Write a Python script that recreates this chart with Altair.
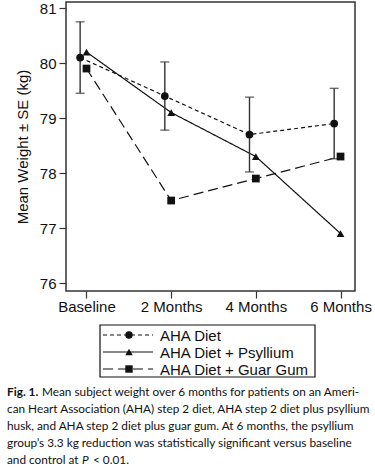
import altair as alt
import pandas as pd

months = ["Baseline", "2 Months", "4 Months", "6 Months"]
series_names = ["AHA Diet", "AHA Diet + Psyllium", "AHA Diet + Guar Gum"]
aha = [80.1, 79.4, 78.7, 78.9]
aha_se = [0.65, 0.62, 0.68, 0.64]
psyllium = [80.2, 79.1, 78.3, 76.9]
guar = [79.9, 77.5, 77.9, 78.3]

caption_bold = "Fig. 1."
caption_lines = [
    "Mean subject weight over 6 months for patients on an Ameri-",
    "can Heart Association (AHA) step 2 diet, AHA step 2 diet plus psyllium",
    "husk, and AHA step 2 diet plus guar gum. At 6 months, the psyllium",
    "group\u2019s 3.3 kg reduction was statistically significant versus baseline",
    "and control at",
]
caption_italic = "P"
caption_tail = "< 0.01."

rows = []
for name, vals in zip(series_names, [aha, psyllium, guar]):
    for i, v in enumerate(vals):
        rows.append({"series": name, "idx": i, "value": v})
df = pd.DataFrame(rows)
err = pd.DataFrame({"idx": list(range(len(months))), "value": aha, "se": aha_se})

PL, PT = 66, 2
W, H = 289, 289
AHA_SHIFT = -0.075
FONT = "Liberation Sans"
CAP_FONT = "Lato"
INK = "#111"

xscale = alt.Scale(domain=[-0.242, 3.171], nice=False, zero=False)
yscale = alt.Scale(domain=[75.855, 81.11], nice=False, zero=False)
label_expr = "[" + ",".join("'%s'" % m for m in months) + "][datum.value]"

xenc = alt.X("xpos:Q", scale=xscale,
             axis=alt.Axis(values=list(range(len(months))), labelExpr=label_expr, title=None))
yenc = alt.Y("value:Q", scale=yscale,
             axis=alt.Axis(values=[76, 77, 78, 79, 80, 81], format="d", title="Mean Weight \u00b1 SE (kg)"))

shift_expr = "datum.idx + (datum.series == 'AHA Diet' ? %f : 0)" % AHA_SHIFT

dash_scale = alt.Scale(domain=series_names, range=[[4, 3], [1, 0], [10, 5]])
shape_scale = alt.Scale(domain=series_names, range=["circle", "triangle-up", "square"])

base = alt.Chart(df).transform_calculate(xpos=shift_expr)

lines = base.mark_line(color=INK, strokeWidth=1.2).encode(
    x=xenc, y=yenc,
    strokeDash=alt.StrokeDash("series:N", scale=dash_scale, legend=None),
    detail="series:N",
)
points = base.mark_point(filled=True, color=INK, opacity=1, size=60).encode(
    x=xenc, y=yenc,
    shape=alt.Shape("series:N", scale=shape_scale, legend=None),
)

ebase = alt.Chart(err).transform_calculate(
    xpos="datum.idx + %f" % AHA_SHIFT,
    lo="datum.value - datum.se",
    hi="datum.value + datum.se",
)
erule = ebase.mark_rule(color="#333", strokeWidth=1.4).encode(
    x=xenc, y=alt.Y("lo:Q", scale=yscale), y2="hi:Q")
cap_lo = ebase.mark_tick(color="#333", orient="horizontal", size=9, thickness=1.4).encode(
    x=xenc, y=alt.Y("lo:Q", scale=yscale))
cap_hi = ebase.mark_tick(color="#333", orient="horizontal", size=9, thickness=1.4).encode(
    x=xenc, y=alt.Y("hi:Q", scale=yscale))

# legend (drawn below the plot), positions in page pixels minus plot origin
one = pd.DataFrame({"k": [0]})
leg_layers = []
LX0, LX1, LY0, LY1 = 100 - PL, 315 - PL, 325 - PT, 377 - PT
leg_layers.append(alt.Chart(one).mark_rect(fill=None, stroke=INK, strokeWidth=1.2).encode(
    x=alt.value(LX0), x2=alt.value(LX1), y=alt.value(LY0), y2=alt.value(LY1)))
dashes = [[4, 3], [1, 0], [10, 5]]
shapes = ["circle", "triangle-up", "square"]
for i, name in enumerate(series_names):
    yy = LY0 + 10 + i * 17
    leg_layers.append(alt.Chart(one).mark_rule(color=INK, strokeWidth=1.2, strokeDash=dashes[i]).encode(
        x=alt.value(LX0 + 3), x2=alt.value(LX0 + 53), y=alt.value(yy)))
    leg_layers.append(alt.Chart(one).mark_point(filled=True, color=INK, opacity=1, size=55, shape=shapes[i]).encode(
        x=alt.value(LX0 + 29), y=alt.value(yy)))
    leg_layers.append(alt.Chart(one).mark_text(text=name, font=FONT, fontSize=15, color=INK,
                                               align="left", baseline="middle").encode(
        x=alt.value(LX0 + 60), y=alt.value(yy + 1)))

# caption
cap_layers = []
CX, CY, LH, CFS = 7 - PL, 392 - PT, 17, 11.8
cap_layers.append(alt.Chart(one).mark_text(text=caption_bold, font=CAP_FONT, fontSize=CFS, fontWeight="bold",
                                           color=INK, align="left", baseline="middle").encode(
    x=alt.value(CX), y=alt.value(CY)))
for i, line in enumerate(caption_lines):
    xoff = CX + (35 if i == 0 else 0)
    cap_layers.append(alt.Chart(one).mark_text(text=line, font=CAP_FONT, fontSize=CFS, color=INK,
                                               align="left", baseline="middle").encode(
        x=alt.value(xoff), y=alt.value(CY + i * LH)))
cap_layers.append(alt.Chart(one).mark_text(text=caption_italic, font=CAP_FONT, fontSize=CFS, fontStyle="italic",
                                           color=INK, align="left", baseline="middle").encode(
    x=alt.value(CX + 75), y=alt.value(CY + 4 * LH)))
cap_layers.append(alt.Chart(one).mark_text(text=caption_tail, font=CAP_FONT, fontSize=CFS, color=INK,
                                           align="left", baseline="middle").encode(
    x=alt.value(CX + 86), y=alt.value(CY + 4 * LH)))

chart = alt.layer(lines, erule, cap_lo, cap_hi, points, *leg_layers, *cap_layers).properties(
    width=W, height=H,
    autosize=alt.AutoSizeParams(type="none"),
    padding={"left": PL, "top": PT, "right": 375 - PL - W, "bottom": 468 - PT - H},
    background="white",
).configure_view(
    stroke="#333", strokeWidth=1.5,
).configure_axis(
    domain=False, grid=False,
    tickColor="#333", tickSize=7, tickWidth=1.2,
    labelFont=FONT, labelFontSize=15, labelColor=INK,
    titleFont=FONT, titleFontSize=15, titleFontWeight="normal", titleColor=INK,
).configure_axisX(labelPadding=1).configure_axisY(labelPadding=3, titlePadding=9)

chart.save("out.html", embed_options={"renderer": "svg", "actions": False})
